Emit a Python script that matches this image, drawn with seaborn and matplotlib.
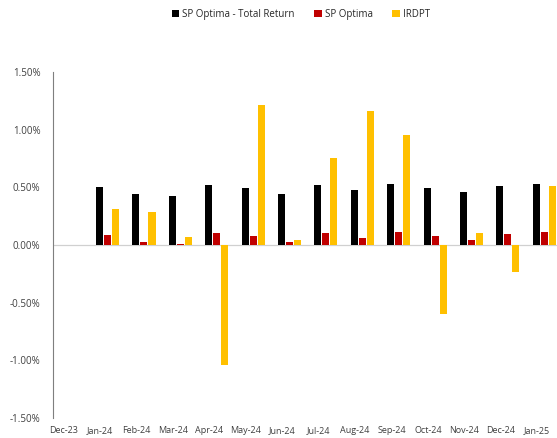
import numpy as np
import pandas as pd
import seaborn as sns
import matplotlib.pyplot as plt
from matplotlib.patches import Patch
from matplotlib.ticker import FuncFormatter

months = ["Dec-23", "Jan-24", "Feb-24", "Mar-24", "Apr-24", "May-24", "Jun-24",
          "Jul-24", "Aug-24", "Sep-24", "Oct-24", "Nov-24", "Dec-24", "Jan-25"]
series = ["SP Optima - Total Return", "SP Optima", "IRDPT"]
total_return = [np.nan, 0.50, 0.44, 0.425, 0.52, 0.49, 0.445, 0.52, 0.475, 0.525, 0.49, 0.46, 0.51, 0.53]
sp_optima = [np.nan, 0.085, 0.025, 0.01, 0.10, 0.075, 0.03, 0.105, 0.06, 0.11, 0.075, 0.045, 0.095, 0.115]
irdpt = [np.nan, 0.31, 0.285, 0.07, -1.04, 1.21, 0.04, 0.755, 1.165, 0.955, -0.60, 0.10, -0.23, 0.51]
colors = ["#000000", "#C00000", "#FFC000"]

df = pd.DataFrame({"month": months * 3,
                   "series": np.repeat(series, len(months)),
                   "value": total_return + sp_optima + irdpt})

sns.set_style("white")
plt.rcParams["font.family"] = ["Open Sans", "DejaVu Sans"]

fig = plt.figure(figsize=(5.57, 4.38), dpi=100)
ax = fig.add_axes([53 / 557, 20 / 438, 1 - 53 / 557, 346 / 438])

sns.barplot(data=df, x="month", y="value", hue="series", order=months,
            hue_order=series, palette=colors, width=0.66, gap=0.12,
            ax=ax, legend=False, saturation=1, linewidth=0)

ax.set_xlim(-0.5, 13.35)
ax.set_ylim(-1.5, 1.5)
ax.set_yticks([-1.5, -1.0, -0.5, 0.0, 0.5, 1.0, 1.5])
ax.yaxis.set_major_formatter(FuncFormatter(lambda v, p: f"{v:.2f}%"))
ax.set_xticks(np.arange(len(months)) - 0.2)
ax.set_xticklabels(months)
ax.tick_params(axis="x", length=0, labelsize=6.5, colors="#404040", pad=6)
ax.tick_params(axis="y", length=0, labelsize=7, colors="#404040", pad=9)
ax.set_xlabel("")
ax.set_ylabel("")
for s in ["top", "right", "bottom"]:
    ax.spines[s].set_visible(False)
ax.spines["left"].set_color("#7f7f7f")
ax.spines["left"].set_linewidth(0.8)
ax.axhline(0, color="#d0d0d0", lw=0.9, zorder=0)

handles = [Patch(facecolor=c, edgecolor="none") for c in colors]
fig.legend(handles, series, loc="upper center", bbox_to_anchor=(0.54, 1.0),
           ncol=3, frameon=False, fontsize=7, handlelength=0.8,
           handleheight=0.8, handletextpad=0.3, columnspacing=2.0)

fig.savefig("out.png", dpi=100)
